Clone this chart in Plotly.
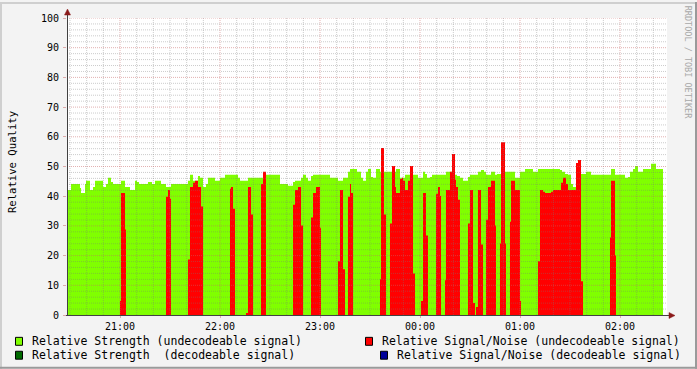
import plotly.graph_objects as go

# ---------------- data (time = minutes after 20:00) ----------------
green_t = [28.2, 28.8, 30.6, 36.0, 36.6, 39.0, 39.6, 42.0, 43.8, 45.0, 49.8, 51.6, 52.8, 54.6, 55.8,
           60.6, 63.0, 66.0, 69.0, 70.2, 71.4, 76.8, 79.2, 81.0, 84.6, 87.6, 90.6, 100.8, 102.0, 103.8,
           106.8, 108.0, 109.8, 111.6, 112.8, 117.0, 120.0, 123.0, 130.8, 132.0, 136.8, 147.6, 156.0,
           160.8, 163.8, 165.0, 168.6, 169.8, 171.6, 172.8, 174.6, 175.8, 186.0, 190.8, 193.8, 196.8,
           198.0, 202.2, 204.6, 205.8, 207.6, 208.8, 210.6, 211.8, 213.6, 216.0, 225.6, 228.0, 231.0,
           238.8, 241.8, 243.0, 244.2, 246.0, 247.2, 255.6, 261.0, 262.2, 264.0, 265.8, 268.8, 270.0,
           274.8, 276.6, 278.4, 279.6, 282.6, 285.0, 286.2, 291.0, 297.0, 300.0, 303.0, 307.8, 310.8,
           324.0, 325.2, 327.0, 328.8, 330.6, 331.8, 333.6, 336.6, 339.6, 342.6, 354.6, 357.0, 363.0,
           364.8, 366.0, 367.8, 369.0, 370.8, 373.8, 378.6, 381.6]
green_v = [42.8, 42.1, 44.1, 42.8, 41.1, 44.1, 45.2, 42.1, 43.1, 45.2, 43.1, 44.1, 46.2, 44.8, 44.1,
           45.2, 43.1, 42.1, 45.2, 44.8, 44.1, 44.8, 44.1, 45.2, 44.1, 43.1, 44.1, 45.2, 47.2, 45.2,
           46.8, 46.2, 43.1, 44.1, 46.2, 45.2, 46.2, 47.2, 46.2, 45.2, 46.2, 47.2, 44.1,
           43.5, 44.8, 45.2, 46.2, 47.2, 46.2, 45.2, 46.8, 47.2, 46.2, 45.2, 46.2, 48.2,
           49.2, 48.2, 46.2, 45.2, 48.2, 49.2, 46.5, 46.2, 49.2, 48.2, 49.2, 46.2, 47.2,
           46.2, 48.2, 47.5, 46.2, 46.5, 47.2, 48.2, 47.2, 46.8, 46.2, 45.2, 46.5, 47.2,
           48.2, 48.8, 48.2, 47.2, 48.2, 47.2, 47.5, 48.2, 46.2, 48.2, 49.2, 48.2, 49.2,
           48.8, 48.2, 47.5, 47.2, 44.1, 43.1, 47.2, 47.5, 48.2, 47.2, 49.2, 47.2, 46.2,
           46.5, 48.2, 49.2, 50.2, 48.2, 49.2, 50.9, 49.2]

red_t = [28.2, 60.0, 60.6, 63.0, 63.6, 87.6, 88.8, 90.0, 90.6, 100.8, 102.0, 103.8, 105.0, 106.8,
         108.6, 109.8, 126.0, 126.6, 127.8, 129.0, 135.6, 136.8, 138.6, 139.8, 144.6, 145.8, 147.6,
         163.8, 165.0, 166.8, 168.6, 169.8, 174.6, 175.8, 177.6, 180.0, 180.6, 190.8, 192.0, 193.8,
         195.0, 196.8, 198.0, 198.6, 199.8, 216.0, 216.6, 218.4, 219.6, 222.0, 223.2, 225.0, 225.6,
         228.0, 229.2, 229.8, 231.0, 232.8, 234.0, 235.8, 237.0, 240.6, 241.8, 243.6, 244.8, 249.6,
         250.8, 252.0, 252.6, 255.0, 255.6, 258.0, 259.2, 261.0, 261.6, 262.8, 264.0, 268.8, 270.0,
         271.8, 273.0, 273.6, 274.8, 276.6, 277.8, 279.6, 280.8, 282.6, 285.0, 285.6, 288.0, 288.6,
         291.0, 291.6, 294.0, 294.6, 297.0, 300.0, 300.6, 310.8, 312.0, 313.8, 315.0, 318.6, 319.8,
         324.6, 325.8, 327.6, 328.8, 333.6, 334.8, 336.6, 337.8, 354.0, 354.6, 357.0, 357.6]
red_v = [0, 4.7, 41.1, 28.8, 0, 39.8, 42.1, 39.1, 0, 18.7, 43.1, 44.5, 45.2, 43.1,
         36.5, 0, 42.5, 43.1, 35.8, 0, 0.7, 43.1, 33.8, 0, 44.1, 48.2, 0,
         37.1, 42.1, 43.1, 30.1, 0, 32.8, 41.1, 43.1, 29.4, 0, 18.1, 42.1, 15.4,
         0, 39.8, 44.1, 41.1, 0, 12.0, 56.2, 33.8, 0, 30.8, 50.2, 43.1, 41.1,
         45.8, 46.2, 45.2, 42.1, 45.2, 50.2, 14.0, 0, 4.7, 41.1, 26.8, 0, 40.8,
         43.1, 40.1, 0, 11.7, 42.1, 48.2, 54.2, 45.5, 43.1, 38.8, 0, 30.8, 42.1,
         4.0, 0, 2.7, 42.1, 23.7, 0, 32.1, 43.1, 45.2, 30.1, 0, 24.1, 58.2,
         24.1, 0, 31.4, 45.2, 42.1, 4.7, 0, 18.1, 42.1, 41.5, 41.1, 41.5, 42.1,
         44.5, 46.2, 44.1, 42.1, 51.2, 52.2, 11.4, 0, 26.1, 45.2, 20.1, 0]

data_end = 385.8
x_range = [28.2, 388.2]

hour_ticks = [60, 120, 180, 240, 300, 360]
hour_labels = ["21:00", "22:00", "23:00", "00:00", "01:00", "02:00"]
minor_x = list(range(30, 390, 10))
y_ticks = list(range(0, 101, 10))
minor_y = list(range(2, 101, 2))

legend_labels = ["Relative Strength (undecodeable signal)",
                 "Relative Signal/Noise (undecodeable signal)",
                 "Relative Strength  (decodeable signal)",
                 "Relative Signal/Noise (decodeable signal)"]
legend_colors = ["#80FF00", "#FF0000", "#006A00", "#000099"]

# ---------------- layout geometry (pixels) ----------------
W, H = 697, 369
L, R, T, B = 67, 667, 16, 315
FONT = "DejaVu Sans Mono"


def px(x):
    return (x - L) / (R - L)


def py(y):
    return (B - y) / (B - T)


fig = go.Figure()
fig.add_trace(go.Scatter(x=green_t + [data_end], y=green_v + [green_v[-1]], mode="lines",
                         line=dict(shape="hv", width=0, color="#80FF00"), fill="tozeroy",
                         fillcolor="#80FF00", showlegend=False, hoverinfo="skip"))
fig.add_trace(go.Scatter(x=red_t + [data_end], y=red_v + [red_v[-1]], mode="lines",
                         line=dict(shape="hv", width=0, color="#FF0000"), fill="tozeroy",
                         fillcolor="#FF0000", showlegend=False, hoverinfo="skip"))

shapes = []
minor_col = "rgba(120,120,120,0.38)"
major_col = "rgba(200,100,100,0.5)"
for t in minor_x:
    major = t in hour_ticks
    shapes.append(dict(type="line", xref="x", yref="paper", x0=t, x1=t, y0=0, y1=1, layer="above",
                       line=dict(color=major_col if major else minor_col, width=1, dash="1px,1px")))
for v in minor_y:
    major = v % 10 == 0
    shapes.append(dict(type="line", xref="paper", yref="y", x0=0, x1=1, y0=v, y1=v, layer="above",
                       line=dict(color=major_col if major else minor_col, width=1, dash="1px,1px")))

# axes lines with arrows
axis_col = "#404040"
shapes.append(dict(type="line", xref="paper", yref="paper", x0=px(66), x1=px(671), y0=py(315.5), y1=py(315.5),
                   layer="above", line=dict(color=axis_col, width=1)))
shapes.append(dict(type="line", xref="paper", yref="paper", x0=px(67.5), x1=px(67.5), y0=py(316), y1=py(10),
                   layer="above", line=dict(color=axis_col, width=1)))
arrow_col = "#8B1A1A"
shapes.append(dict(type="path", xref="paper", yref="paper", layer="above",
                   path=f"M {px(669)},{py(312.5)} L {px(675)},{py(315.5)} L {px(669)},{py(318.5)} Z",
                   fillcolor=arrow_col, line=dict(color=arrow_col, width=0.5)))
shapes.append(dict(type="path", xref="paper", yref="paper", layer="above",
                   path=f"M {px(64.5)},{py(13)} L {px(67.5)},{py(7)} L {px(70.5)},{py(13)} Z",
                   fillcolor=arrow_col, line=dict(color=arrow_col, width=0.5)))

# outer frame
shapes.append(dict(type="line", xref="paper", yref="paper", x0=px(1), x1=px(1), y0=py(0), y1=py(H),
                   line=dict(color="#cfcfcf", width=2)))
shapes.append(dict(type="line", xref="paper", yref="paper", x0=px(0), x1=px(W), y0=py(1), y1=py(1),
                   line=dict(color="#cfcfcf", width=2)))
shapes.append(dict(type="line", xref="paper", yref="paper", x0=px(W - 1), x1=px(W - 1), y0=py(0), y1=py(H),
                   line=dict(color="#9a9a9a", width=2)))
shapes.append(dict(type="line", xref="paper", yref="paper", x0=px(0), x1=px(W), y0=py(H - 1), y1=py(H - 1),
                   line=dict(color="#9a9a9a", width=2)))

annotations = []
# legend
leg_pos = [(15, 341, 30), (365, 341, 380), (15, 355, 30), (380, 355, 395)]
for (bx, cy, tx), lab, col in zip(leg_pos, legend_labels, legend_colors):
    shapes.append(dict(type="rect", xref="paper", yref="paper", x0=px(bx + 0.5), x1=px(bx + 7.5),
                       y0=py(cy - 3.5), y1=py(cy + 4.5), fillcolor=col, line=dict(color="#000000", width=1)))
    annotations.append(dict(text=lab, xref="paper", yref="paper", x=px(tx), y=py(cy), xanchor="left",
                            yanchor="middle", showarrow=False, font=dict(family=FONT, size=11.5, color="#000")))

annotations.append(dict(text="Relative Quality", xref="paper", yref="paper", x=px(12), y=py(161),
                        textangle=-90, showarrow=False, xanchor="center", yanchor="middle",
                        font=dict(family=FONT, size=10.6, color="#000")))
annotations.append(dict(text="RRDTOOL / TOBI OETIKER", xref="paper", yref="paper", x=px(688), y=py(60),
                        textangle=90, showarrow=False, xanchor="center", yanchor="middle",
                        font=dict(family=FONT, size=8.5, color="#a8a8a8")))

fig.update_layout(
    width=W, height=H,
    margin=dict(l=L, r=W - R, t=T, b=H - B, pad=0),
    paper_bgcolor="#F3F3F3", plot_bgcolor="#FFFFFF",
    shapes=shapes, annotations=annotations, showlegend=False,
    xaxis=dict(range=x_range, tickvals=hour_ticks, ticktext=hour_labels, showgrid=False, zeroline=False,
               showline=False, ticks="outside", ticklen=2, tickcolor=major_col,
               tickfont=dict(family=FONT, size=10, color="#000"), fixedrange=True),
    yaxis=dict(range=[0, 100], tickvals=y_ticks, showgrid=False, zeroline=False, showline=False,
               ticks="outside", ticklen=3, tickcolor=major_col, ticklabelstandoff=2,
               tickfont=dict(family=FONT, size=10, color="#000"), fixedrange=True),
)

fig.write_html("out.html")
